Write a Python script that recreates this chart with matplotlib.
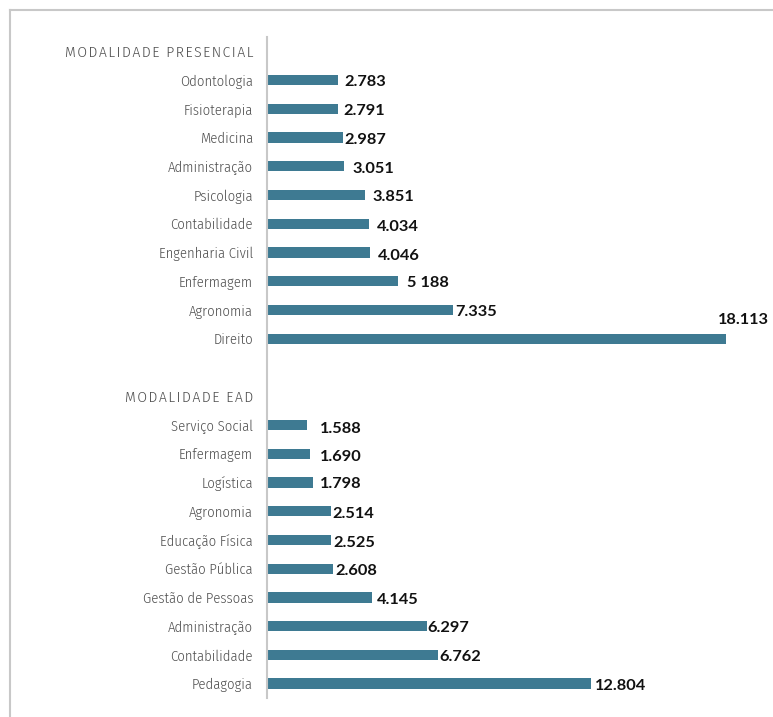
import matplotlib.pyplot as plt
from matplotlib.lines import Line2D

# data
presencial_cursos = ['Odontologia', 'Fisioterapia', 'Medicina', 'Administração', 'Psicologia',
                     'Contabilidade', 'Engenharia Civil', 'Enfermagem', 'Agronomia', 'Direito']
presencial_valores = [2783, 2791, 2987, 3051, 3851, 4034, 4046, 5188, 7335, 18113]
presencial_rotulos = ['2.783', '2.791', '2.987', '3.051', '3.851', '4.034', '4.046', '5 188', '7.335', '18.113']

ead_cursos = ['Serviço Social', 'Enfermagem', 'Logística', 'Agronomia', 'Educação Física',
              'Gestão Pública', 'Gestão de Pessoas', 'Administração', 'Contabilidade', 'Pedagogia']
ead_valores = [1588, 1690, 1798, 2514, 2525, 2608, 4145, 6297, 6762, 12804]
ead_rotulos = ['1.588', '1.690', '1.798', '2.514', '2.525', '2.608', '4.145', '6.297', '6.762', '12.804']

titulos = ['MODALIDADE PRESENCIAL', 'MODALIDADE EAD']

# label nudges in pixels (dx from bar end, dy downwards)
presencial_desl = [(7, 2), (6, 2), (2, 2), (8, 3), (8, 2), (8, 3), (8, 3), (9, 2), (2, 2), (-8, -19)]
ead_desl = [(13, 4), (10, 3), (7, 2), (2, 3), (2, 3), (2, 2), (5, 3), (1, 2), (1, 2), (4, 2)]

COR = '#3e7a92'
CINZA_TXT = '#4f4f4f'
CINZA_LINHA = '#c8c8c8'
FONTE_CAT = ['Fira Sans Condensed', 'DejaVu Sans']
FONTE_VAL = ['Lato', 'DejaVu Sans']


def espacar(t):
    return '\u200a'.join(t)


W, H = 773, 717
fig = plt.figure(figsize=(W / 100, H / 100), dpi=100)
ax = fig.add_axes([267 / W, 1 - 698 / H, 493 / W, 661 / H])

# slots: 0 header, 1-10 presencial, 11 blank, 12 header, 13-22 ead
pos_pres = list(range(1, 11))
pos_ead = list(range(13, 23))

ax.barh(pos_pres, presencial_valores, height=0.36, color=COR)
ax.barh(pos_ead, ead_valores, height=0.36, color=COR)

ax.set_xlim(0, 18113 * 493 / 459)
ax.set_ylim(22.5, -0.5)

ax.set_yticks([0] + pos_pres + [12] + pos_ead)
ax.set_yticklabels([espacar(titulos[0])] + presencial_cursos + [espacar(titulos[1])] + ead_cursos,
                   family=FONTE_CAT, fontweight=300, fontsize=10.5, color=CINZA_TXT)
for t in ax.get_yticklabels():
    if '\u200a' in t.get_text():
        t.set_fontsize(11.2)
ax.tick_params(axis='y', length=0, pad=10)
ax.set_xticks([])

for s in ['top', 'right', 'bottom']:
    ax.spines[s].set_visible(False)
ax.spines['left'].set_color(CINZA_LINHA)
ax.spines['left'].set_linewidth(1.5)

for pos, val, rot, (dx, dy) in zip(pos_pres + pos_ead, presencial_valores + ead_valores,
                                    presencial_rotulos + ead_rotulos, presencial_desl + ead_desl):
    ax.annotate(rot, (val, pos), xytext=(dx * 0.72, -dy * 0.72), textcoords='offset points',
                ha='left', va='center', fontsize=11.8, fontweight='bold',
                family=FONTE_VAL, color='#111111')

# frame lines
fig.add_artist(Line2D([10 / W, 1], [1 - 10 / H, 1 - 10 / H], color=CINZA_LINHA, lw=1.5))
fig.add_artist(Line2D([10 / W, 10 / W], [0, 1 - 10 / H], color=CINZA_LINHA, lw=1.5))

fig.savefig('out.png', dpi=100)
